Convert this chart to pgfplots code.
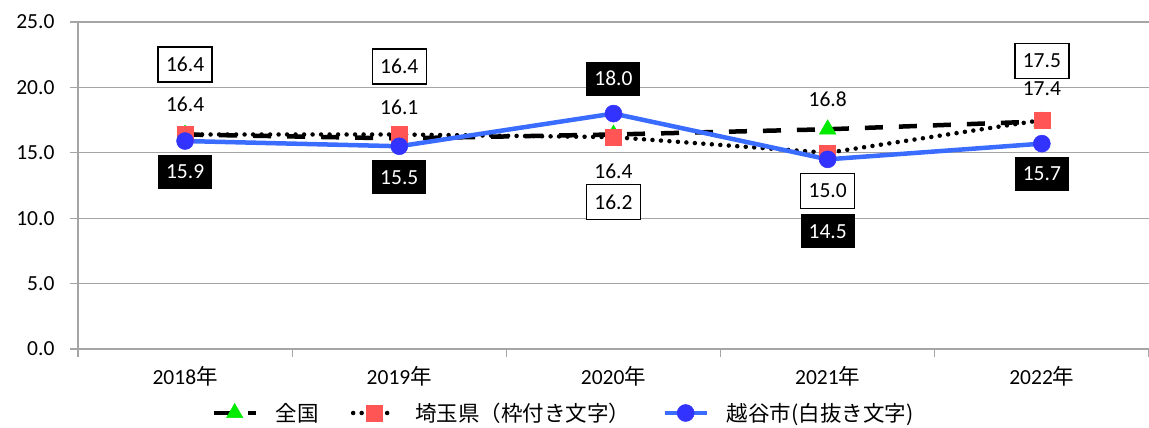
\documentclass[border=0pt]{standalone}
\usepackage{pgfplots}
\pgfplotsset{compat=1.18}
\usepackage{pgfplotstable}
\usepackage{fontspec}
\setmainfont{Carlito}
\newfontfamily\cjk{Noto Sans CJK JP}
\definecolor{gridgray}{RGB}{165,165,165}
\definecolor{mygreen}{RGB}{0,235,0}
\definecolor{myred}{RGB}{255,85,85}
\definecolor{myblue}{RGB}{58,108,255}
\definecolor{mydot}{RGB}{51,51,255}

\pgfplotstableread{
x y dy
0 16.4 30
1 16.1 31
2 16.4 -37
3 16.8 30
4 17.4 33
}\zenkoku
\pgfplotstableread{
x y dy
0 16.4 70
1 16.4 68
2 16.2 -65
3 15.0 -38
4 17.5 59
}\saitama
\pgfplotstableread{
x y dy
0 15.9 -31
1 15.5 -31
2 18.0 35
3 14.5 -72
4 15.7 -30
}\koshigaya

\begin{document}
\begin{tikzpicture}[font=\fontsize{21.5}{26}\selectfont]
\useasboundingbox (0pt,0pt) rectangle (1149pt,428pt);
\begin{axis}[
  at={(78pt,79pt)}, anchor=south west,
  scale only axis, width=1071pt, height=327pt,
  xmin=-0.5, xmax=4.5, ymin=0, ymax=25,
  ytick={0,5,...,25},
  xtick={0,...,4},
  xticklabels={2018{\cjk 年},2019{\cjk 年},2020{\cjk 年},2021{\cjk 年},2022{\cjk 年}},
  minor xtick={-0.5,0.5,...,4.5},
  axis x line*=bottom, axis y line*=left,
  axis line style={gridgray, line width=1.3pt},
  tick align=outside,
  major tick length=8pt, minor tick length=8pt,
  every tick/.append style={gridgray, line width=1.3pt},
  every major x tick/.append style={draw=none},
  ymajorgrids,
  major grid style={gridgray, line width=1.3pt},
  /pgf/number format/assume math mode=true,
  yticklabel style={xshift=-12pt, /pgf/number format/.cd, fixed, fixed zerofill, precision=1},
  xticklabel style={yshift=-6pt},
  legend style={at={(axis description cs:0.4533,-0.1957)}, anchor=center,
    draw=none, fill=none, legend columns=3,
    /tikz/every odd column/.append style={column sep=16pt},
    /tikz/every even column/.append style={column sep=30pt}},
  legend image code/.code={\draw[mark repeat=2,mark phase=2] plot coordinates {(0pt,0pt)(21pt,0pt)(42pt,0pt)};},
  nodes near coords={\pgfmathprintnumber[fixed,fixed zerofill,precision=1]{\pgfplotspointmeta}},
  visualization depends on={\thisrow{dy} \as \dy},
  clip=false,
]
\addplot[black, line width=4.5pt, dash pattern=on 18pt off 16pt,
  mark=triangle*, mark size=9.5pt, mark options={solid, fill=mygreen, draw=mygreen, line width=0.5pt},
  every node near coord/.style={anchor=center, yshift=\dy pt, text=black, solid}]
  table[x=x,y=y] {\zenkoku};
\addlegendentry{{\cjk 全国}}
\addplot[black, line width=4.5pt, line cap=round, dash pattern=on 0pt off 8.5pt,
  mark=square*, mark size=8pt, mark options={solid, fill=myred, draw=myred, line width=0.5pt},
  every node near coord/.style={anchor=center, yshift=\dy pt, text=black, solid,
    draw=black, line width=1.3pt, fill=white, minimum width=54pt, minimum height=35pt}]
  table[x=x,y=y] {\saitama};
\addlegendentry{{\cjk 埼玉県（枠付き文字）}}
\addplot[myblue, line width=4.5pt,
  mark=*, mark size=8.5pt, mark options={solid, fill=mydot, draw=mydot, line width=0.5pt},
  every node near coord/.style={anchor=center, yshift=\dy pt, text=white, solid,
    draw=none, fill=black, minimum width=54pt, minimum height=34pt}]
  table[x=x,y=y] {\koshigaya};
\addlegendentry{{\cjk 越谷市(白抜き文字)}}
\end{axis}
\end{tikzpicture}
\end{document}
